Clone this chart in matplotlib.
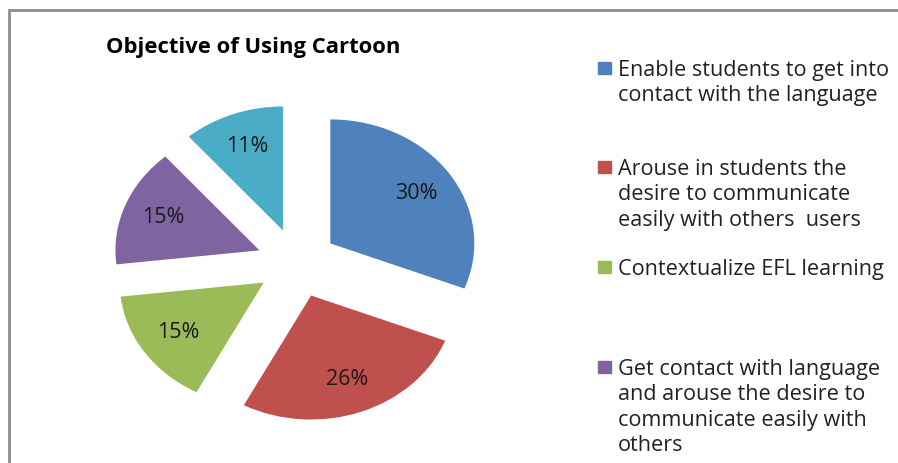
import matplotlib.pyplot as plt
from matplotlib.patches import Rectangle

# data
categories = [
    "Enable students to get into\ncontact with the language",
    "Arouse in students the\ndesire to communicate\neasily with others  users",
    "Contextualize EFL learning",
    "Get contact with language\nand arouse the desire to\ncommunicate easily with\nothers",
    "Other",
]
values = [30, 26, 15, 15, 11]
pct_labels = ["30%", "26%", "15%", "15%", "11%"]
colors = ["#4F81BD", "#C0504D", "#9BBB59", "#8064A2", "#4BACC6"]
title = "Objective of Using Cartoon"

plt.rcParams["font.family"] = ["Open Sans", "DejaVu Sans"]

W, H = 898, 463
fig = plt.figure(figsize=(W / 100, H / 100), dpi=100)

# grey chart frame (cropped on right and bottom)
fig.patches.append(Rectangle((9 / W, -0.1), 1.2, 1 - 10 / H + 0.1,
                             transform=fig.transFigure, fill=False,
                             edgecolor="#8c8c8c", lw=2))

# pie is a bit stretched sideways in the original
ry = 124
rx = 144
cx, cy = 297, H - 263
ax = fig.add_axes([(cx - 2 * rx) / W, (cy - 1.6 * ry) / H, 4 * rx / W, 3.2 * ry / H])
ax.pie(values, colors=colors, startangle=90, counterclock=False,
       explode=[0.28] * len(values), labels=pct_labels, labeldistance=0.72,
       textprops={"ha": "center", "va": "center", "fontsize": 15.5,
                  "color": "#1a1a1a"})
ax.set_xlim(-2, 2)
ax.set_ylim(-1.6, 1.6)
ax.set_aspect("auto")
ax.axis("off")

fig.text(253 / W, 1 - 47 / H, title, ha="center", va="center",
         fontsize=15.8, fontweight="bold", color="black")

# legend (only the first four entries are visible)
leg_y = [68, 167, 267, 367]
for lab, col, y in zip(categories[:4], colors[:4], leg_y):
    fig.patches.append(Rectangle((598 / W, 1 - (y + 6) / H), 13 / W, 12 / H,
                                 transform=fig.transFigure, color=col))
    fig.text(618 / W, 1 - (y - 8) / H, lab, ha="left", va="top",
             fontsize=15.6, color="#222222", linespacing=1.28)

fig.savefig("out.png", dpi=100)
